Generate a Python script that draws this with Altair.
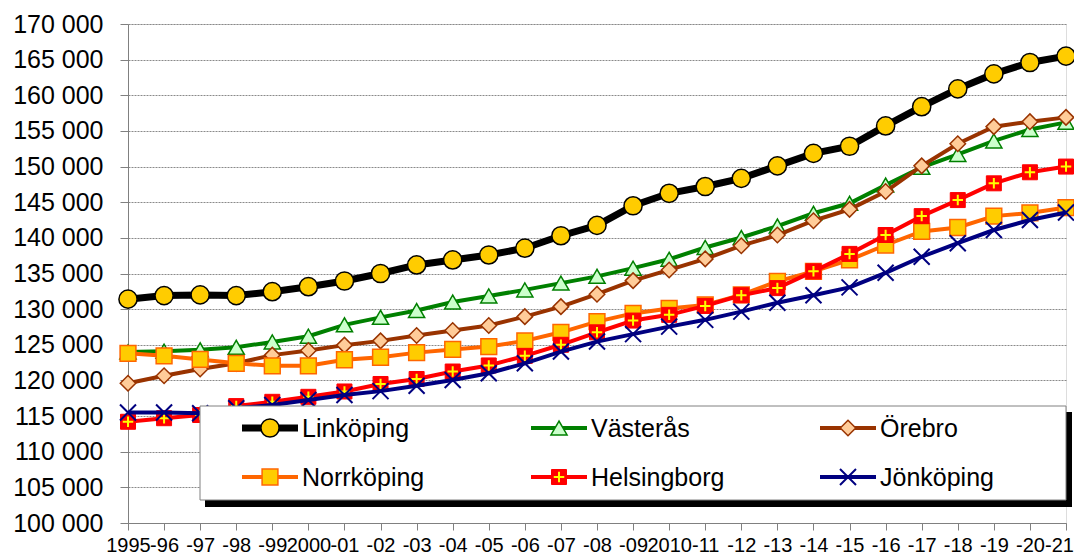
import altair as alt
import pandas as pd

years = ["1995", "-96", "-97", "-98", "-99", "2000", "-01", "-02", "-03", "-04",
         "-05", "-06", "-07", "-08", "-09", "2010", "-11", "-12", "-13", "-14",
         "-15", "-16", "-17", "-18", "-19", "-20", "-21"]

linkoping = [131400, 131900, 132000, 131900, 132450, 133150, 133950, 135000, 136200, 136900,
             137600, 138550, 140300, 141750, 144500, 146250, 147200, 148350, 150100, 151850,
             152850, 155700, 158400, 160900, 163000, 164600, 165500]
vasteras = [124000, 124100, 124300, 124650, 125400, 126200, 127800, 128850, 129800, 131000,
            131850, 132700, 133650, 134600, 135750, 137000, 138650, 140050, 141650, 143450,
            144850, 147400, 149900, 151700, 153600, 155200, 156200]
orebro = [119600, 120650, 121600, 122400, 123550, 124200, 124950, 125550, 126300, 127000,
          127700, 128950, 130350, 132100, 134000, 135500, 137050, 138900, 140400, 142400,
          144000, 146500, 150100, 153200, 155600, 156300, 156900]
norrkoping = [123800, 123450, 122950, 122400, 122050, 122050, 122900, 123250, 123900, 124350,
              124750, 125550, 126750, 128250, 129400, 130100, 130600, 132000, 133900, 135300,
              136900, 139000, 140900, 141450, 143050, 143500, 144250]
helsingborg = [114200, 114700, 115150, 116400, 117000, 117700, 118450, 119500, 120200, 121250,
               122100, 123450, 125000, 126750, 128400, 129200, 130450, 131950, 132950, 135300,
               137750, 140400, 143050, 145300, 147650, 149200, 150000]
jonkoping = [115500, 115500, 115400, 116100, 116550, 117250, 117950, 118500, 119250, 120050,
             121000, 122400, 124050, 125450, 126500, 127550, 128500, 129650, 130900, 131950,
             133050, 135100, 137350, 139250, 141100, 142500, 143550]

cities = ["Linköping", "Västerås", "Örebro", "Norrköping", "Helsingborg", "Jönköping"]
series = [linkoping, vasteras, orebro, norrkoping, helsingborg, jonkoping]

styles = {
    "Linköping": dict(line="#000000", lw=7, shape="circle", size=330, fill="#FFCC00", stroke="#000000", sw=1.5),
    "Västerås": dict(line="#008000", lw=4, shape="triangle-up", size=260, fill="#CCFFCC", stroke="#008000", sw=1.5),
    "Örebro": dict(line="#993300", lw=4, shape="diamond", size=240, fill="#FFCC99", stroke="#993300", sw=1.5),
    "Norrköping": dict(line="#FF6600", lw=4, shape="square", size=250, fill="#FFCC00", stroke="#FF6600", sw=1.5),
    "Helsingborg": dict(line="#FF0000", lw=4, shape="square", size=225, fill="#FF0000", stroke="#FF0000", sw=1),
    "Jönköping": dict(line="#000080", lw=4, shape="M-1,-1L1,1M-1,1L1,-1", size=256, fill=None, stroke="#000080", sw=2),
}

W, H = 938, 499
FONT = "Liberation Sans"

df = pd.DataFrame(
    [{"city": c, "year": y, "value": v} for c, s in zip(cities, series) for y, v in zip(years, s)]
)

x_enc = alt.X(
    "year:O", sort=years, title=None,
    scale=alt.Scale(type="point", padding=0),
    axis=alt.Axis(labelAngle=0, labelOverlap=False, labelFont=FONT, labelFontSize=20,
                  labelColor="black", tickColor="#808080", tickSize=7, labelPadding=5,
                  labelOffset={"condition": {"test": "datum.value === '-21'", "value": -7}, "value": 0},
                  domainColor="#808080", grid=False),
)
y_enc = alt.Y(
    "value:Q", title=None,
    scale=alt.Scale(domain=[100000, 170000], nice=False, zero=False),
    axis=alt.Axis(values=list(range(100000, 170001, 5000)),
                  labelExpr="replace(format(datum.value, ','), ',', ' ')",
                  labelFont=FONT, labelFontSize=25, labelColor="black",
                  tickColor="#808080", tickSize=8, labelPadding=17,
                  domainColor="#808080", grid=True, gridColor="#8a8a8a",
                  gridDash=[2, 1], gridWidth=1),
)

layers = []
for c in cities:
    st = styles[c]
    sub = df[df.city == c]
    base = alt.Chart(sub)
    layers.append(base.mark_line(color=st["line"], strokeWidth=st["lw"]).encode(x=x_enc, y=y_enc))
    if st["fill"] is None:
        pm = base.mark_point(shape=st["shape"], size=st["size"], filled=False, stroke=st["stroke"],
                             strokeWidth=st["sw"], opacity=1)
    else:
        pm = base.mark_point(shape=st["shape"], size=st["size"], filled=True, fill=st["fill"],
                             stroke=st["stroke"], strokeWidth=st["sw"], opacity=1)
    layers.append(pm.encode(x=x_enc, y=y_enc))
    if c == "Helsingborg":
        layers.append(base.mark_point(shape="M-1,0L1,0M0,-1L0,1", size=110, filled=False,
                                      stroke="#FFFF00", strokeWidth=2, opacity=1).encode(x=x_enc, y=y_enc))

# legend box with shadow
one = pd.DataFrame({"k": [0]})
layers.append(alt.Chart(one).mark_rect(color="black").encode(
    x=alt.value(77), x2=alt.value(944), y=alt.value(388), y2=alt.value(483)))
layers.append(alt.Chart(one).mark_rect(fill="white", stroke="#808080", strokeWidth=1).encode(
    x=alt.value(72), x2=alt.value(938), y=alt.value(382), y2=alt.value(476)))

for i, c in enumerate(cities):
    st = styles[c]
    col, row = i % 3, i // 3
    x0 = 114 + 289 * col
    yy = 404 + 49 * row
    layers.append(alt.Chart(one).mark_rule(color=st["line"], strokeWidth=st["lw"]).encode(
        x=alt.value(x0), x2=alt.value(x0 + 56), y=alt.value(yy)))
    if st["fill"] is None:
        pm = alt.Chart(one).mark_point(shape=st["shape"], size=st["size"], filled=False,
                                       stroke=st["stroke"], strokeWidth=st["sw"], opacity=1)
    else:
        pm = alt.Chart(one).mark_point(shape=st["shape"], size=st["size"], filled=True, fill=st["fill"],
                                       stroke=st["stroke"], strokeWidth=st["sw"], opacity=1)
    layers.append(pm.encode(x=alt.value(x0 + 28), y=alt.value(yy)))
    if c == "Helsingborg":
        layers.append(alt.Chart(one).mark_point(shape="M-1,0L1,0M0,-1L0,1", size=110, filled=False,
                                                stroke="#FFFF00", strokeWidth=2, opacity=1).encode(
            x=alt.value(x0 + 28), y=alt.value(yy)))
    layers.append(alt.Chart(pd.DataFrame({"label": [c]})).mark_text(
        align="left", baseline="middle", font=FONT, fontSize=25, color="black").encode(
        x=alt.value(x0 + 60), y=alt.value(yy + 1), text="label:N"))

chart = alt.layer(*layers).properties(
    width=W, height=H,
    autosize=alt.AutoSizeParams(type="none"),
    padding={"left": 120, "top": 16, "right": 8, "bottom": 34},
).configure_view(stroke=None).configure(background="white")

chart.save("out.html", embed_options={"renderer": "svg", "actions": False})
